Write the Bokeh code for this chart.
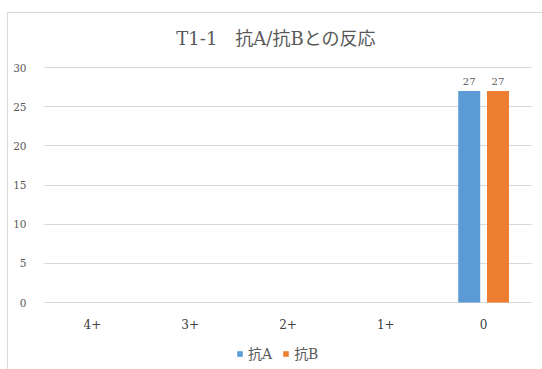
from bokeh.plotting import figure
from bokeh.models import (ColumnDataSource, FactorRange, Range1d, Legend, LegendItem,
                          FixedTicker)
from bokeh.transform import dodge
from bokeh.core.properties import value
from bokeh.embed import file_html
from bokeh.resources import INLINE

title_text = "T1-1　抗A/抗Bとの反応"
categories = ["4+", "3+", "2+", "1+", "0"]
anti_a = [0, 0, 0, 0, 27]
anti_b = [0, 0, 0, 0, 27]
series_names = ["抗A", "抗B"]
y_ticks = [0, 5, 10, 15, 20, 25, 30]

BLUE = "#5B9BD5"
ORANGE = "#ED7D31"
GRID = "#D9D9D9"
TXT = "#595959"
MIX = "DejaVu Serif, Noto Sans CJK JP"

W, H = 542, 369
FL, FR = 43, 532          # plot area left/right on the canvas
Y0_PX, Y30_PX = 302, 67   # canvas rows of value 0 and 30
px_per_unit = (Y0_PX - Y30_PX) / 30.0
y_lo = -(H - Y0_PX) / px_per_unit
y_hi = 30 + Y30_PX / px_per_unit

p = figure(width=W, height=H, title=None,
           x_range=FactorRange(*categories), y_range=Range1d(y_lo, y_hi),
           output_backend="svg", toolbar_location=None,
           min_border_left=FL, min_border_right=W - FR, min_border_top=0,
           min_border_bottom=0)
p.outline_line_color = None
p.background_fill_alpha = 0
p.border_fill_alpha = 0
p.styles = {
    "background": ("linear-gradient(#D9D9D9,#D9D9D9) 7px 12px / 1px 100% no-repeat, "
                   "linear-gradient(#D9D9D9,#D9D9D9) 7px 12px / 100% 1px no-repeat, white"),
}

src = ColumnDataSource(dict(cat=categories, a=anti_a, b=anti_b))
off, bw = 0.147, 0.225
ra = p.vbar(x=dodge("cat", -off, range=p.x_range), top="a", width=bw, source=src,
            fill_color=BLUE, line_color=None)
rb = p.vbar(x=dodge("cat", off, range=p.x_range), top="b", width=bw, source=src,
            fill_color=ORANGE, line_color=None)

# data labels for non-zero values
for key, sign in (("a", -1), ("b", 1)):
    vals = src.data[key]
    cats = [c for c, v in zip(categories, vals) if v]
    vs = [v for v in vals if v]
    ls = ColumnDataSource(dict(cat=cats, v=vs, t=[str(v) for v in vs]))
    p.text(x=dodge("cat", sign * off, range=p.x_range), y="v", text="t", source=ls,
           text_align="center", text_baseline="bottom", y_offset=-6,
           text_font=value("DejaVu Serif"), text_font_size="10px", text_color=TXT)

# category labels under the baseline
p.text(x=categories, y=[0] * len(categories), text=categories,
       text_align="center", text_baseline="middle", y_offset=21,
       text_font=value("DejaVu Serif"), text_font_size="12px", text_color="#404040")

# chart title
p.text(x=[categories[2]], y=[30], text=[title_text], x_offset=-12, y_offset=-29,
       text_align="center", text_baseline="middle",
       text_font=value(MIX), text_font_size="18px", text_color=TXT)

# axes
p.xaxis.visible = False
p.yaxis.ticker = FixedTicker(ticks=y_ticks)
p.yaxis.axis_line_color = None
p.yaxis.major_tick_line_color = None
p.yaxis.minor_tick_line_color = None
p.yaxis.major_label_text_font = "DejaVu Serif"
p.yaxis.major_label_text_font_size = "10.5px"
p.yaxis.major_label_text_color = TXT
p.yaxis.major_label_standoff = 11
p.xgrid.grid_line_color = None
p.ygrid.grid_line_color = GRID
p.ygrid.ticker = FixedTicker(ticks=y_ticks)

legend = Legend(items=[LegendItem(label=series_names[0], renderers=[ra]),
                       LegendItem(label=series_names[1], renderers=[rb])],
                orientation="horizontal", location=(193, 6),
                glyph_width=7, glyph_height=7, label_standoff=5, spacing=10,
                padding=0, margin=0, border_line_color=None, background_fill_alpha=0,
                label_text_font=MIX, label_text_font_size="14px", label_text_color=TXT)
p.add_layout(legend, "center")

open("out.html", "w").write(file_html(p, INLINE))
